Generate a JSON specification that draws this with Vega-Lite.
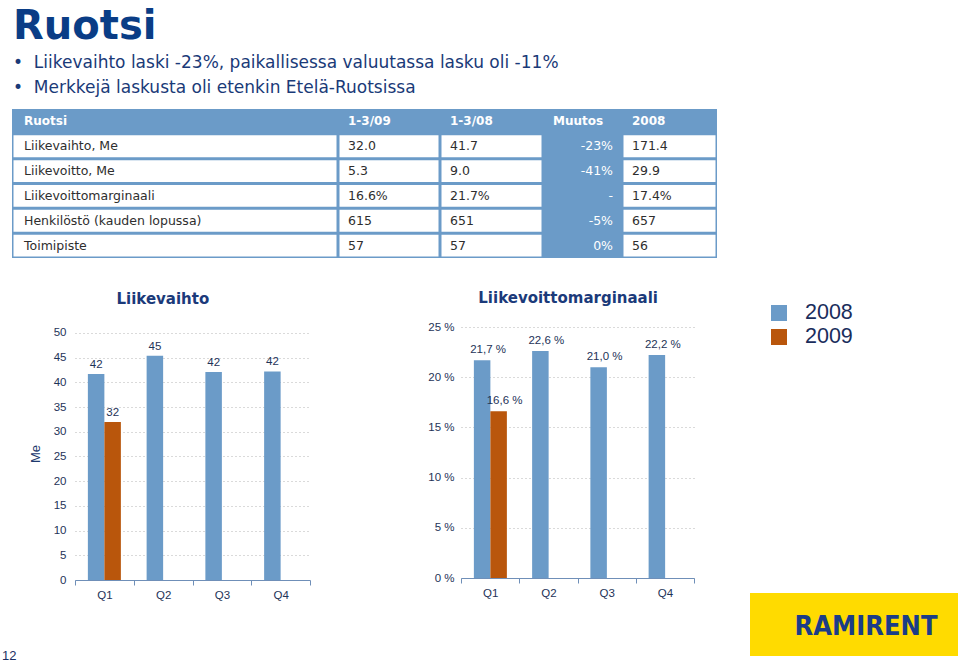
{
  "$schema": "https://vega.github.io/schema/vega-lite/v6.json",
  "padding": {"left": 2, "top": 6, "right": 0, "bottom": 0},
  "background": "white",
  "title": {
    "text": "Ruotsi",
    "subtitle": ["\u00a0\u00a0•\u00a0\u00a0Liikevaihto laski -23%, paikallisessa valuutassa lasku oli -11%", "\u00a0\u00a0•\u00a0\u00a0Merkkejä laskusta oli etenkin Etelä-Ruotsissa"],
    "anchor": "start",
    "frame": "group",
    "dx": 11,
    "font": "DejaVu Sans",
    "fontSize": 40,
    "fontWeight": "bold",
    "color": "#0a3d86",
    "subtitleFont": "DejaVu Sans",
    "subtitleFontSize": 17,
    "subtitleColor": "#1a3a78",
    "subtitleLineHeight": 25,
    "subtitlePadding": 8.5,
    "offset": 13
  },
  "datasets": {
    "table": [
      {"row": 0, "c1": "Ruotsi", "c2": "1-3/09", "c3": "1-3/08", "c4": "Muutos", "c5": "2008"},
      {"row": 1, "c1": "Liikevaihto, Me", "c2": "32.0", "c3": "41.7", "c4": "-23%", "c5": "171.4"},
      {"row": 2, "c1": "Liikevoitto, Me", "c2": "5.3", "c3": "9.0", "c4": "-41%", "c5": "29.9"},
      {"row": 3, "c1": "Liikevoittomarginaali", "c2": "16.6%", "c3": "21.7%", "c4": "-", "c5": "17.4%"},
      {"row": 4, "c1": "Henkilöstö (kauden lopussa)", "c2": "615", "c3": "651", "c4": "-5%", "c5": "657"},
      {"row": 5, "c1": "Toimipiste", "c2": "57", "c3": "57", "c4": "0%", "c5": "56"}
    ],
    "rev": [
      {"quarter": "Q1", "year": "2008", "value": 41.7},
      {"quarter": "Q1", "year": "2009", "value": 32.0},
      {"quarter": "Q2", "year": "2008", "value": 45.4},
      {"quarter": "Q3", "year": "2008", "value": 42.1},
      {"quarter": "Q4", "year": "2008", "value": 42.2}
    ],
    "margin": [
      {"quarter": "Q1", "year": "2008", "value": 0.217},
      {"quarter": "Q1", "year": "2009", "value": 0.166},
      {"quarter": "Q2", "year": "2008", "value": 0.226},
      {"quarter": "Q3", "year": "2008", "value": 0.210},
      {"quarter": "Q4", "year": "2008", "value": 0.222}
    ],
    "legend": [{"year": "2008"}, {"year": "2009"}]
  },
  "config": {
    "view": {"stroke": null},
    "locale": {"number": {"decimal": ",", "thousands": "\u00a0", "grouping": [3], "currency": ["", "\u00a0€"], "percent": "\u00a0%"}}
  },
  "spacing": 30,
  "hconcat": [
    {
      "spacing": 33,
      "vconcat": [
        {
          "spacing": 0,
          "hconcat": [
            {"width": 10, "height": 20, "data": {"values": [{}]}, "mark": {"type": "point", "opacity": 0}},
            {
              "width": 326, "height": 149, "data": {"name": "table"},
              "view": {"fill": "#6b9bc8", "stroke": null},
              "encoding": {
                "y": {"field": "row", "type": "ordinal", "axis": null, "scale": {"type": "band", "paddingInner": 0.12, "paddingOuter": 0.06}}
              },
              "layer": [
                {"transform": [{"filter": "datum.row > 0"}],
                 "mark": {"type": "rect", "fill": "#ffffff", "xOffset": 1.5, "x2Offset": -1.5},
                 "encoding": {
                   "x": {"datum": 0, "type": "quantitative", "scale": {"domain": [0, 1]}, "axis": null},
                   "x2": {"datum": 1}}},
                {"transform": [{"filter": "datum.row == 0"}],
                 "mark": {"type": "text", "align": "left", "dx": 12, "font": "DejaVu Sans", "fontWeight": "bold", "fontSize": 12, "color": "#ffffff"},
                 "encoding": {"x": {"datum": 0, "type": "quantitative", "scale": {"domain": [0, 1]}, "axis": null}, "text": {"field": "c1"}}},
                {"transform": [{"filter": "datum.row > 0"}],
                 "mark": {"type": "text", "align": "left", "dx": 12, "font": "DejaVu Sans", "fontSize": 12.5, "color": "#2e2e2e"},
                 "encoding": {"x": {"datum": 0, "type": "quantitative", "scale": {"domain": [0, 1]}, "axis": null}, "text": {"field": "c1"}}}
              ]
            },
            {
              "width": 102, "height": 149, "data": {"name": "table"},
              "view": {"fill": "#6b9bc8", "stroke": null},
              "encoding": {
                "y": {"field": "row", "type": "ordinal", "axis": null, "scale": {"type": "band", "paddingInner": 0.12, "paddingOuter": 0.06}}
              },
              "layer": [
                {"transform": [{"filter": "datum.row > 0"}],
                 "mark": {"type": "rect", "fill": "#ffffff", "xOffset": 1.5, "x2Offset": -1.5},
                 "encoding": {
                   "x": {"datum": 0, "type": "quantitative", "scale": {"domain": [0, 1]}, "axis": null},
                   "x2": {"datum": 1}}},
                {"transform": [{"filter": "datum.row == 0"}],
                 "mark": {"type": "text", "align": "left", "dx": 10, "font": "DejaVu Sans", "fontWeight": "bold", "fontSize": 12, "color": "#ffffff"},
                 "encoding": {"x": {"datum": 0, "type": "quantitative", "scale": {"domain": [0, 1]}, "axis": null}, "text": {"field": "c2"}}},
                {"transform": [{"filter": "datum.row > 0"}],
                 "mark": {"type": "text", "align": "left", "dx": 10, "font": "DejaVu Sans", "fontSize": 12.5, "color": "#2e2e2e"},
                 "encoding": {"x": {"datum": 0, "type": "quantitative", "scale": {"domain": [0, 1]}, "axis": null}, "text": {"field": "c2"}}}
              ]
            },
            {
              "width": 103, "height": 149, "data": {"name": "table"},
              "view": {"fill": "#6b9bc8", "stroke": null},
              "encoding": {
                "y": {"field": "row", "type": "ordinal", "axis": null, "scale": {"type": "band", "paddingInner": 0.12, "paddingOuter": 0.06}}
              },
              "layer": [
                {"transform": [{"filter": "datum.row > 0"}],
                 "mark": {"type": "rect", "fill": "#ffffff", "xOffset": 1.5, "x2Offset": -1.5},
                 "encoding": {
                   "x": {"datum": 0, "type": "quantitative", "scale": {"domain": [0, 1]}, "axis": null},
                   "x2": {"datum": 1}}},
                {"transform": [{"filter": "datum.row == 0"}],
                 "mark": {"type": "text", "align": "left", "dx": 10, "font": "DejaVu Sans", "fontWeight": "bold", "fontSize": 12, "color": "#ffffff"},
                 "encoding": {"x": {"datum": 0, "type": "quantitative", "scale": {"domain": [0, 1]}, "axis": null}, "text": {"field": "c3"}}},
                {"transform": [{"filter": "datum.row > 0"}],
                 "mark": {"type": "text", "align": "left", "dx": 10, "font": "DejaVu Sans", "fontSize": 12.5, "color": "#2e2e2e"},
                 "encoding": {"x": {"datum": 0, "type": "quantitative", "scale": {"domain": [0, 1]}, "axis": null}, "text": {"field": "c3"}}}
              ]
            },
            {
              "width": 79, "height": 149, "data": {"name": "table"},
              "view": {"fill": "#6b9bc8", "stroke": null},
              "encoding": {
                "y": {"field": "row", "type": "ordinal", "axis": null, "scale": {"type": "band", "paddingInner": 0.12, "paddingOuter": 0.06}}
              },
              "layer": [
                {"transform": [{"filter": "datum.row == 0"}],
                 "mark": {"type": "text", "align": "left", "dx": 10, "font": "DejaVu Sans", "fontWeight": "bold", "fontSize": 12, "color": "#ffffff"},
                 "encoding": {"x": {"datum": 0, "type": "quantitative", "scale": {"domain": [0, 1]}, "axis": null}, "text": {"field": "c4"}}},
                {"transform": [{"filter": "datum.row > 0"}],
                 "mark": {"type": "text", "align": "right", "dx": -9, "font": "DejaVu Sans", "fontSize": 12.5, "color": "#ffffff"},
                 "encoding": {"x": {"datum": 1, "type": "quantitative", "scale": {"domain": [0, 1]}, "axis": null}, "text": {"field": "c4"}}}
              ]
            },
            {
              "width": 95, "height": 149, "data": {"name": "table"},
              "view": {"fill": "#6b9bc8", "stroke": null},
              "encoding": {
                "y": {"field": "row", "type": "ordinal", "axis": null, "scale": {"type": "band", "paddingInner": 0.12, "paddingOuter": 0.06}}
              },
              "layer": [
                {"transform": [{"filter": "datum.row > 0"}],
                 "mark": {"type": "rect", "fill": "#ffffff", "xOffset": 1.5, "x2Offset": -1.5},
                 "encoding": {
                   "x": {"datum": 0, "type": "quantitative", "scale": {"domain": [0, 1]}, "axis": null},
                   "x2": {"datum": 1}}},
                {"transform": [{"filter": "datum.row == 0"}],
                 "mark": {"type": "text", "align": "left", "dx": 10, "font": "DejaVu Sans", "fontWeight": "bold", "fontSize": 12, "color": "#ffffff"},
                 "encoding": {"x": {"datum": 0, "type": "quantitative", "scale": {"domain": [0, 1]}, "axis": null}, "text": {"field": "c5"}}},
                {"transform": [{"filter": "datum.row > 0"}],
                 "mark": {"type": "text", "align": "left", "dx": 10, "font": "DejaVu Sans", "fontSize": 12.5, "color": "#2e2e2e"},
                 "encoding": {"x": {"datum": 0, "type": "quantitative", "scale": {"domain": [0, 1]}, "axis": null}, "text": {"field": "c5"}}}
              ]
            }
          ]
        },
        {
          "spacing": 0,
          "hconcat": [
            {
              "width": 27, "height": 336,
              "data": {"values": [{"page": "12"}]},
              "mark": {"type": "text", "align": "left", "baseline": "bottom", "font": "Liberation Sans", "fontSize": 13, "color": "#1b2f63"},
              "encoding": {
                "text": {"field": "page"},
                "x": {"datum": 0, "type": "quantitative", "scale": {"domain": [0, 1]}, "axis": null},
                "y": {"datum": 0, "type": "quantitative", "scale": {"domain": [0, 1]}, "axis": null}
              }
            },
            {
              "width": 235, "height": 253,
              "title": {"text": "Liikevaihto", "font": "DejaVu Sans", "fontSize": 15, "fontWeight": "bold", "color": "#1b3a7a", "anchor": "middle", "frame": "bounds", "offset": 20, "dx": -7},
              "data": {"name": "rev"},
              "encoding": {
                "x": {"field": "quarter", "type": "nominal", "scale": {"paddingInner": 0, "paddingOuter": 0},
                      "axis": {"title": null, "labelAngle": 0, "tickBand": "extent", "grid": false, "domainColor": "#6f8fb8", "tickColor": "#6f8fb8", "tickSize": 5, "labelPadding": 4, "labelFont": "Liberation Sans", "labelFontSize": 11.5, "labelColor": "#1e3358"}},
                "xOffset": {"field": "year", "type": "nominal", "scale": {"paddingInner": 0, "paddingOuter": 0.78}},
                "y": {"field": "value", "type": "quantitative", "scale": {"domain": [0, 51.2], "nice": false},
                      "axis": {"title": "Me", "titleFont": "Liberation Sans", "titleFontSize": 13, "titleFontWeight": "normal", "titleColor": "#1e3a6e", "titlePadding": 11,
                               "values": [0, 5, 10, 15, 20, 25, 30, 35, 40, 45, 50], "domain": false, "ticks": false, "labelPadding": 9,
                               "labelFont": "Liberation Sans", "labelFontSize": 11.5, "labelColor": "#1e3358",
                               "gridColor": "#b5b5b5", "gridDash": [1, 3], "gridWidth": 1}}
              },
              "layer": [
                {"mark": {"type": "bar"},
                 "encoding": {"color": {"field": "year", "type": "nominal", "scale": {"domain": ["2008", "2009"], "range": ["#6b9bc8", "#b9560c"]}, "legend": null}}},
                {"mark": {"type": "text", "baseline": "bottom", "dy": -4, "font": "Liberation Sans", "fontSize": 11.5, "color": "#1e3358"},
                 "encoding": {"text": {"field": "value", "type": "quantitative", "format": ".0f"}}}
              ]
            },
            {"width": 116, "height": 20, "data": {"values": [{}]}, "mark": {"type": "point", "opacity": 0}},
            {
              "width": 233, "height": 251,
              "title": {"text": "Liikevoittomarginaali", "font": "DejaVu Sans", "fontSize": 15, "fontWeight": "bold", "color": "#1b3a7a", "anchor": "middle", "frame": "bounds", "offset": 15, "dx": 7},
              "data": {"name": "margin"},
              "encoding": {
                "x": {"field": "quarter", "type": "nominal", "scale": {"paddingInner": 0, "paddingOuter": 0},
                      "axis": {"title": null, "labelAngle": 0, "tickBand": "extent", "grid": false, "domainColor": "#6f8fb8", "tickColor": "#6f8fb8", "tickSize": 5, "labelPadding": 4, "labelFont": "Liberation Sans", "labelFontSize": 11.5, "labelColor": "#1e3358"}},
                "xOffset": {"field": "year", "type": "nominal", "scale": {"paddingInner": 0, "paddingOuter": 0.78}},
                "y": {"field": "value", "type": "quantitative", "scale": {"domain": [0, 0.25], "nice": false},
                      "axis": {"title": null, "format": ".0%",
                               "values": [0, 0.05, 0.1, 0.15, 0.2, 0.25], "domain": false, "ticks": false, "labelPadding": 7,
                               "labelFont": "Liberation Sans", "labelFontSize": 11.5, "labelColor": "#1e3358",
                               "gridColor": "#b5b5b5", "gridDash": [1, 3], "gridWidth": 1}}
              },
              "layer": [
                {"mark": {"type": "bar"},
                 "encoding": {"color": {"field": "year", "type": "nominal", "scale": {"domain": ["2008", "2009"], "range": ["#6b9bc8", "#b9560c"]}, "legend": null}}},
                {"mark": {"type": "text", "baseline": "bottom", "dy": -5, "dx": 6, "font": "Liberation Sans", "fontSize": 11.5, "color": "#1e3358"},
                 "encoding": {"text": {"field": "value", "type": "quantitative", "format": ".1%"}}}
              ]
            }
          ]
        }
      ]
    },
    {
      "spacing": 0,
      "vconcat": [
        {"width": 1, "height": 192, "data": {"values": [{}]}, "mark": {"type": "point", "opacity": 0}},
        {
          "width": 58, "height": 48,
          "data": {"name": "legend"},
          "encoding": {"y": {"field": "year", "type": "nominal", "scale": {"type": "point", "padding": 0.5}, "axis": null}},
          "layer": [
            {"mark": {"type": "point", "shape": "square", "filled": true, "size": 256, "opacity": 1},
             "encoding": {"color": {"field": "year", "type": "nominal", "scale": {"domain": ["2008", "2009"], "range": ["#6b9bc8", "#b9560c"]}, "legend": null}}},
            {"mark": {"type": "text", "align": "left", "dx": 26, "font": "Liberation Sans", "fontSize": 21.5, "color": "#1a2d5c"},
             "encoding": {"text": {"field": "year"}}}
          ]
        },
        {"width": 1, "height": 244, "data": {"values": [{}]}, "mark": {"type": "point", "opacity": 0}},
        {
          "width": 208, "height": 63,
          "data": {"values": [{"brand": "RAMIRENT"}]},
          "layer": [
            {"mark": {"type": "rect", "color": "#ffdb00"},
             "encoding": {
               "x": {"datum": 0, "type": "quantitative", "scale": {"domain": [0, 1]}, "axis": null},
               "x2": {"datum": 1},
               "y": {"datum": 0, "type": "quantitative", "scale": {"domain": [0, 1]}, "axis": null},
               "y2": {"datum": 1}}},
            {"mark": {"type": "text", "font": "DejaVu Sans Condensed", "fontWeight": "bold", "fontSize": 27, "color": "#1b3d87", "dx": 12, "dy": 2},
             "encoding": {"text": {"field": "brand"}}}
          ]
        }
      ]
    }
  ]
}
